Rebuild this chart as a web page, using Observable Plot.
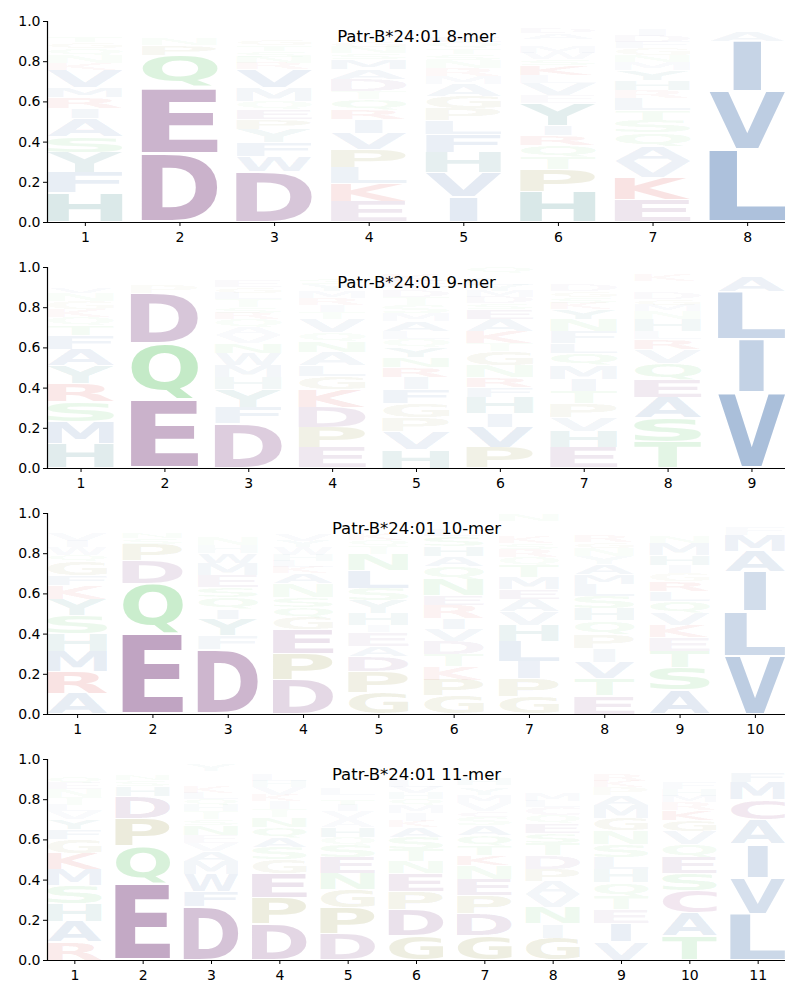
<!DOCTYPE html>
<html>
<head>
<meta charset="utf-8">
<script src="https://cdn.jsdelivr.net/npm/d3@7"></script>
<script src="https://cdn.jsdelivr.net/npm/@observablehq/plot@0.6"></script>
<style>
  body { margin: 0; background: #fff; }
  #chart { width: 800px; }
  #chart svg { display: block; }
</style>
</head>
<body>
<div id="chart"></div>
<script>
// ---------- DATA (letters listed bottom -> top in each position) ----------
const titles = ["Patr-B*24:01 8-mer", "Patr-B*24:01 9-mer", "Patr-B*24:01 10-mer", "Patr-B*24:01 11-mer"];
const yTicks = [0, 0.2, 0.4, 0.6, 0.8, 1.0];

const mer8Letters = [
  "HFYSAIRMVKNQGTEPDWC",
  "DEQPNTGSAKH",
  "DWFYPEQMVRNSTGKHAILC",
  "EKLPVIRQTDAMSNGFYHWC",
  "IVHFLPGAMRNSTQEDWCKY",
  "HPTQRIYEVLKSWMNGADFC",
  "EKVAQSTLRHYMNGFDIPWC",
  "LVIAMFTY"
];
const mer8Values = [
  [.145,.10,.10,.08,.09,.05,.055,.05,.085,.035,.04,.035,.03,.025,.02,.02,.015,.015,.01],
  [.34,.33,.16,.05,.03,.02,.02,.02,.01,.01,.01],
  [.25,.075,.07,.065,.05,.05,.04,.07,.09,.03,.03,.03,.03,.03,.02,.02,.015,.015,.01,.005],
  [.10,.09,.08,.09,.08,.07,.05,.05,.04,.06,.05,.05,.03,.03,.03,.02,.02,.015,.01,.01],
  [.125,.12,.10,.09,.07,.06,.06,.06,.04,.04,.04,.03,.03,.03,.025,.02,.015,.01,.02,.015],
  [.15,.11,.06,.06,.05,.05,.11,.04,.06,.04,.05,.03,.03,.03,.02,.02,.03,.025,.015,.01],
  [.11,.11,.08,.075,.07,.06,.05,.06,.04,.05,.05,.04,.035,.035,.03,.03,.03,.02,.015,.01],
  [.36,.29,.25,.05,.02,.01,.01,.01]
];

const mer9Letters = [
  "HMSRYAFTQKGNVPEDLWIC",
  "EQDPNSTGA",
  "DFYHMWNVAQRSTLGEPICK",
  "EPDKGLANQVTIRMYSFWHC",
  "HVPGFIRNYQLAMSTDWEKC",
  "PVIHFRNGTKAESDMYLWCQ",
  "EHVPTIMQLFNYKSGDRAWC",
  "TSAEQVRLHNMGDIPYFKWC",
  "VILAMFT"
];
const mer9Values = [
  [.12,.11,.10,.09,.09,.08,.07,.05,.04,.04,.04,.04,.025,.02,.02,.015,.015,.01,.01,.01],
  [.34,.28,.25,.04,.02,.02,.02,.015,.01],
  [.22,.08,.09,.06,.06,.06,.05,.04,.04,.04,.03,.03,.04,.03,.03,.03,.02,.015,.01,.02],
  [.10,.10,.10,.09,.065,.055,.065,.055,.045,.065,.035,.035,.035,.035,.035,.025,.02,.015,.015,.01],
  [.09,.09,.07,.07,.07,.06,.05,.05,.05,.04,.04,.05,.04,.04,.04,.03,.02,.03,.03,.01],
  [.10,.10,.07,.08,.05,.05,.06,.07,.04,.06,.06,.05,.03,.03,.03,.03,.03,.02,.01,.03],
  [.10,.08,.07,.07,.06,.06,.07,.06,.05,.06,.06,.05,.03,.03,.03,.03,.02,.02,.01,.02],
  [.13,.12,.10,.09,.08,.07,.05,.04,.06,.04,.03,.03,.03,.02,.02,.01,.01,.03,.01,.01],
  [.375,.265,.24,.075,.02,.015,.01]
];

const mer10Letters = [
  "ARMHSYKFGQWIVLNTPED",
  "EQDPSNGTHKARY",
  "DFYIQSEMWHNLTKGAVP",
  "DPEGQSNAKLHWYVTIMFCR",
  "GPDAEIHYSLNTQKMRFWC",
  "GPKTDVIRENQAHSLMFYW",
  "GPILHVAEMTQRSKFDCYNW",
  "ETVIPQHSLMAYNGRKDFWC",
  "ASTEKVQLRGIHMNDPYFW",
  "VLIAMFYTSC"
];
const mer10Values = [
  [.10,.11,.10,.09,.09,.08,.07,.05,.07,.03,.04,.03,.04,.02,.02,.02,.02,.01,.01],
  [.40,.25,.115,.08,.03,.025,.02,.02,.015,.01,.01,.015,.01],
  [.32,.07,.08,.05,.06,.05,.06,.06,.05,.04,.04,.02,.02,.02,.02,.015,.015,.01],
  [.17,.13,.12,.06,.05,.05,.07,.05,.03,.03,.03,.04,.03,.03,.02,.02,.02,.01,.01,.02],
  [.105,.105,.075,.05,.07,.035,.06,.065,.06,.09,.08,.04,.03,.03,.02,.02,.01,.01,.02],
  [.09,.08,.065,.06,.065,.06,.055,.065,.05,.08,.065,.05,.05,.05,.03,.02,.02,.015,.01],
  [.085,.09,.085,.10,.08,.07,.06,.05,.06,.06,.04,.04,.03,.03,.02,.02,.02,.02,.03,.01],
  [.09,.085,.08,.07,.07,.07,.06,.06,.06,.05,.05,.04,.04,.03,.03,.02,.02,.02,.02,.01],
  [.12,.11,.08,.07,.06,.06,.06,.05,.05,.04,.04,.05,.06,.03,.02,.02,.02,.02,.01],
  [.29,.22,.20,.10,.08,.04,.02,.02,.01,.01]
];

const mer11Letters = [
  "RAHSMKGFYVLTNEQIPDWC",
  "EQPDHSNGTKAR",
  "DFWMAVENSTHQLKIGRPCY",
  "DPEGSAQNTIKVHLMYRFW",
  "DPGNESQHAVITMLKRFYWC",
  "GDPENTSAKIMQHVLYRFWC",
  "GDPENKTQASCVMYIHLRFW",
  "GINVAPDTSEQCLMRKHYFW",
  "VIETQHLSNGMAPKRFDYWC",
  "TACSEQVGKRMHFILNYPDW",
  "LVIACMFYWTS"
];
const mer11Values = [
  [.09,.10,.09,.09,.08,.08,.07,.05,.05,.04,.03,.04,.04,.03,.03,.02,.02,.02,.02,.01],
  [.38,.185,.14,.11,.05,.03,.025,.02,.02,.015,.01,.01],
  [.265,.075,.085,.065,.05,.04,.04,.05,.03,.04,.03,.03,.03,.03,.02,.02,.02,.01,.01,.03],
  [.18,.13,.12,.07,.06,.05,.05,.05,.04,.04,.03,.04,.03,.03,.02,.02,.02,.01,.01],
  [.13,.13,.09,.08,.08,.06,.04,.05,.04,.04,.03,.03,.02,.03,.02,.02,.02,.02,.01,.02],
  [.12,.13,.09,.09,.06,.06,.06,.05,.03,.04,.04,.03,.03,.03,.03,.02,.02,.02,.01,.01],
  [.12,.11,.09,.08,.07,.05,.05,.05,.05,.04,.03,.04,.04,.03,.02,.03,.02,.02,.02,.01],
  [.11,.07,.08,.065,.065,.06,.07,.06,.05,.05,.04,.04,.03,.04,.02,.02,.02,.02,.02,.01],
  [.09,.09,.07,.065,.07,.065,.06,.065,.07,.06,.065,.05,.04,.03,.03,.02,.02,.02,.01,.01],
  [.12,.115,.11,.085,.08,.065,.065,.055,.05,.04,.03,.035,.03,.02,.02,.02,.02,.015,.015,.01],
  [.23,.18,.165,.125,.10,.085,.05,.02,.015,.01,.01]
];

// amino-acid colour groups
const colorLetters = ["A","V","L","I","M","F","W","H","Y","D","E","C","Q","N","S","T","G","P","K","R"];
const colorValues  = ["#4270ad","#4270ad","#4270ad","#4270ad","#4270ad","#4270ad","#4270ad",
                      "#2f7f80","#2f7f80","#7c4180","#7c4180","#9a4a8c",
                      "#4fc25a","#4fc25a","#4fc25a","#4fc25a","#8c8a30","#8c8a30","#d03030","#d03030"];

// ---------- helpers ----------
const FADE = 1.2;      // letter opacity grows with probability
const VPAD = 0.05;     // vertical padding inside each letter box

const ctx = document.createElement("canvas").getContext("2d");
ctx.font = 'bold 100px "DejaVu Sans"';
const metricsCache = {};
function ink(ch) {
  if (!metricsCache[ch]) {
    const m = ctx.measureText(ch);
    metricsCache[ch] = {L: m.actualBoundingBoxLeft, R: m.actualBoundingBoxRight,
                        A: m.actualBoundingBoxAscent, D: m.actualBoundingBoxDescent};
  }
  return metricsCache[ch];
}

function buildRows(letters, values) {
  const rows = [];
  letters.forEach((col, i) => {
    [...col].forEach((ch, j) => rows.push({pos: i + 1, letter: ch, value: values[i][j]}));
  });
  return rows;
}

// replace each stacked rect by its glyph, stretched to fill the rect
function drawGlyphs(svg) {
  const e = ink("E");
  const wE = e.L + e.R;
  const rects = Array.from(svg.querySelectorAll("rect")).filter(r => r.querySelector("title"));
  rects.forEach(rect => {
    const ch = rect.querySelector("title").textContent.trim();
    const x = +rect.getAttribute("x"), y = +rect.getAttribute("y");
    const w = +rect.getAttribute("width"), h = +rect.getAttribute("height");
    const text = document.createElementNS("http://www.w3.org/2000/svg", "text");
    if (h > 0 && w > 0) {
      const m = ink(ch);
      const inkW = m.L + m.R, inkH = m.A + m.D;
      const sx = Math.min(w / inkW, w / wE);
      const dw = inkW * sx;
      const y0 = y + h * VPAD / 2, hh = h * (1 - VPAD);
      const sy = hh / inkH;
      const tx = x + (w - dw) / 2 + m.L * sx;
      const ty = y0 + m.A * sy;
      text.textContent = ch;
      text.setAttribute("x", 0);
      text.setAttribute("y", 0);
      text.setAttribute("font-family", "DejaVu Sans");
      text.setAttribute("font-weight", "bold");
      text.setAttribute("font-size", 100);
      text.setAttribute("text-anchor", "start");
      text.setAttribute("fill", rect.getAttribute("fill"));
      const fo = rect.getAttribute("fill-opacity");
      if (fo != null) text.setAttribute("fill-opacity", fo);
      text.setAttribute("transform", `translate(${tx},${ty}) scale(${sx},${sy})`);
    }
    rect.parentNode.replaceChild(text, rect);
  });
}

function logoPanel(title, letters, values) {
  const rows = buildRows(letters, values);
  const positions = letters.map((_, i) => i + 1);
  const xMin = positions[0] - 0.4, xMax = positions[positions.length - 1] + 0.4;
  const svg = Plot.plot({
    width: 800,
    height: 246,
    marginLeft: 47,
    marginRight: 15,
    marginTop: 21,
    marginBottom: 24,
    style: {fontFamily: "DejaVu Sans", fontSize: "14px", color: "black", background: "white", overflow: "visible"},
    x: {domain: [xMin, xMax]},
    y: {domain: [0, 1]},
    color: {domain: colorLetters, range: colorValues},
    opacity: {type: "identity"},
    marks: [
      Plot.rect(rows, Plot.stackY({
        x: "pos",
        y: "value",
        x1: d => d.pos - 0.4,
        x2: d => d.pos + 0.4,
        fill: "letter",
        fillOpacity: d => Math.min(1, FADE * d.value),
        title: "letter"
      })),
      Plot.axisY({ticks: yTicks, tickFormat: d3.format(".1f"), tickSize: 4, tickPadding: 3, label: null}),
      Plot.axisX({ticks: positions, tickFormat: d => String(d), tickSize: 4, tickPadding: 6, label: null}),
      Plot.ruleY([0], {stroke: "black", strokeWidth: 1.2}),
      Plot.ruleX([xMin], {stroke: "black", strokeWidth: 1.2}),
      Plot.text([title], {frameAnchor: "top", lineAnchor: "middle", dy: 15, fontSize: 16.5, fill: "black"})
    ]
  });
  drawGlyphs(svg);
  return svg;
}

const chart = document.getElementById("chart");
chart.appendChild(logoPanel(titles[0], mer8Letters, mer8Values));
chart.appendChild(logoPanel(titles[1], mer9Letters, mer9Values));
chart.appendChild(logoPanel(titles[2], mer10Letters, mer10Values));
chart.appendChild(logoPanel(titles[3], mer11Letters, mer11Values));
</script>
</body>
</html>
